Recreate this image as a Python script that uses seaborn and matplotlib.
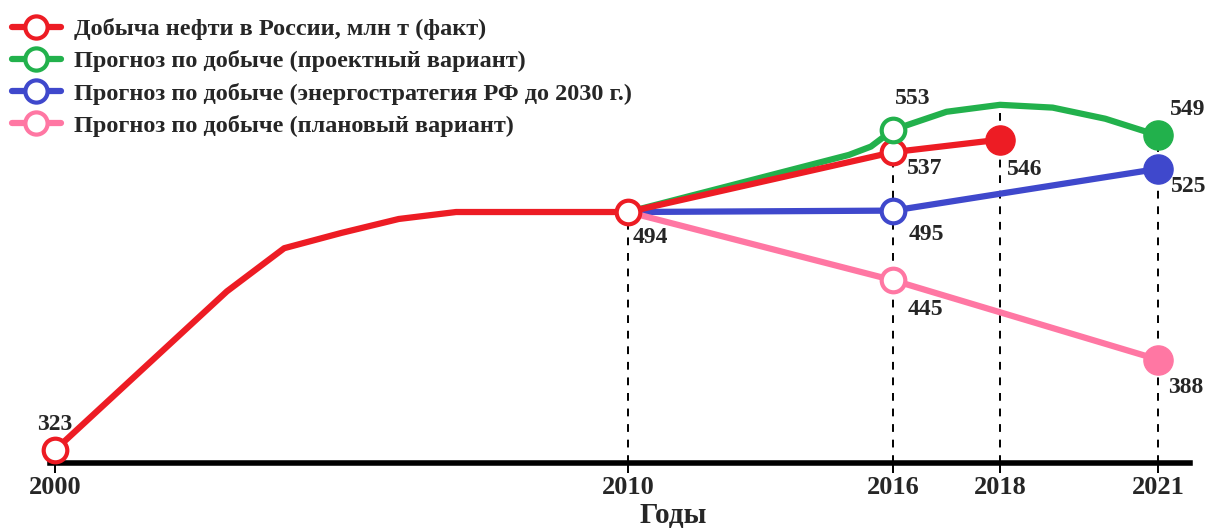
import numpy as np
import matplotlib
matplotlib.use("Agg")
import matplotlib.pyplot as plt
from matplotlib.lines import Line2D
import seaborn as sns

# Data (млн т)
fact_years = [2000, 2001, 2002, 2003, 2004, 2005, 2006, 2007, 2008, 2009, 2010, 2016, 2018]
fact_values = [323, 361, 399, 437, 468, 479, 489, 494, 494, 494, 494, 537, 546]

proj_years = [2010, 2015, 2015.5, 2016, 2017, 2018, 2019, 2020, 2021]
proj_values = [494, 535, 541, 553, 566, 571, 569, 561, 549]

strat_years = [2010, 2016, 2021]
strat_values = [494, 495, 525]

plan_years = [2010, 2016, 2021]
plan_values = [494, 445, 388]

tick_years = [2000, 2010, 2016, 2018, 2021]

labels = [
    "Добыча нефти в России, млн т (факт)",
    "Прогноз по добыче (проектный вариант)",
    "Прогноз по добыче (энергостратегия РФ до 2030 г.)",
    "Прогноз по добыче (плановый вариант)",
]

RED = "#ED1C24"
GREEN = "#22B14C"
BLUE = "#3F48CC"
PINK = "#FF77A3"

sns.set_style("white")
plt.rcParams["font.family"] = ["Liberation Serif", "DejaVu Serif"]
plt.rcParams["font.weight"] = "bold"

# uneven spacing of the year axis, as in the original drawing
anchor_years = np.array([1999, 2000, 2010, 2016, 2018, 2021, 2022], dtype=float)
anchor_pos = np.array([-2.3, 55, 628, 893, 1000, 1158, 1210.7])


def fwd(x):
    return np.interp(x, anchor_years, anchor_pos)


def inv(p):
    return np.interp(p, anchor_pos, anchor_years)


fig = plt.figure(figsize=(12.11, 5.28), dpi=100)
ax = fig.add_axes([50 / 1211, 65 / 528, 1140 / 1211, 463 / 528])
ax.set_xscale("function", functions=(fwd, inv))
ax.set_xlim(inv(50), inv(1190))
ax.set_ylim(313.7, 646.3)

LW = 4.5

# dashed guides down to the axis
guide_years = [2010, 2016, 2018, 2021]
guide_tops = [494, 553, 571, 549]
ax.vlines(guide_years, 313.7, guide_tops, colors="black", linestyles=(0, (4, 4)), lw=1.4, zorder=1)

series = [
    (proj_years, proj_values, GREEN),
    (strat_years, strat_values, BLUE),
    (plan_years, plan_values, PINK),
    (fact_years, fact_values, RED),
]
for xs, ys, c in series:
    sns.lineplot(x=xs, y=ys, color=c, lw=LW, sort=False, ax=ax, zorder=3)

# filled end points
for xs, ys, c in series:
    ax.plot(xs[-1], ys[-1], "o", ms=21, color=c, mec=c, zorder=5, clip_on=False)

# hollow points
hollow = [
    (2000, 323, RED), (2016, 537, RED),
    (2016, 553, GREEN), (2016, 495, BLUE), (2016, 445, PINK),
    (2010, 494, RED),
]
for x, y, c in hollow:
    ax.plot(x, y, "o", ms=17, mfc="white", mec=c, mew=3, zorder=6, clip_on=False)

# value labels (offset in pixels from the point)
notes = [
    (2000, 323, "323", 0, 15, "center", "bottom"),
    (2010, 494, "494", 5, -15, "left", "top"),
    (2016, 553, "553", 2, 21, "left", "bottom"),
    (2016, 537, "537", 14, -6, "left", "top"),
    (2016, 495, "495", 16, -13, "left", "top"),
    (2016, 445, "445", 15, -19, "left", "top"),
    (2018, 546, "546", 7, -19, "left", "top"),
    (2021, 549, "549", 12, 15, "left", "bottom"),
    (2021, 525, "525", 13, -7, "left", "top"),
    (2021, 388, "388", 10, -17, "left", "top"),
]
for x, y, t, dx, dy, ha, va in notes:
    ax.annotate(t, (x, y), xytext=(dx, dy), textcoords="offset pixels",
                ha=ha, va=va, fontsize=17, fontweight="bold", zorder=7)

sns.despine(ax=ax, left=True)
ax.spines["bottom"].set_linewidth(4)
ax.spines["bottom"].set_color("black")
ax.set_yticks([])
ax.set_xticks(tick_years)
ax.set_xticklabels([str(y) for y in tick_years], fontsize=19, fontweight="bold")
ax.tick_params(axis="x", direction="out", length=7, width=1.4, color="black", pad=2, bottom=True)
ax.set_xlabel("Годы", fontsize=21, fontweight="bold")
ax.xaxis.set_label_coords((673 - 50) / 1140, -0.085)

handles = [
    Line2D([], [], color=c, lw=LW, marker="o", ms=16, mfc="white", mec=c, mew=3)
    for c in [RED, GREEN, BLUE, PINK]
]
fig.legend(handles, labels, loc="upper left", bbox_to_anchor=(0, 1 - 6 / 528),
           frameon=False, borderpad=0, handlelength=2.0, handletextpad=0.55,
           labelspacing=0.42, prop={"size": 17.5, "weight": "bold"})

fig.savefig("out.png", dpi=100)
